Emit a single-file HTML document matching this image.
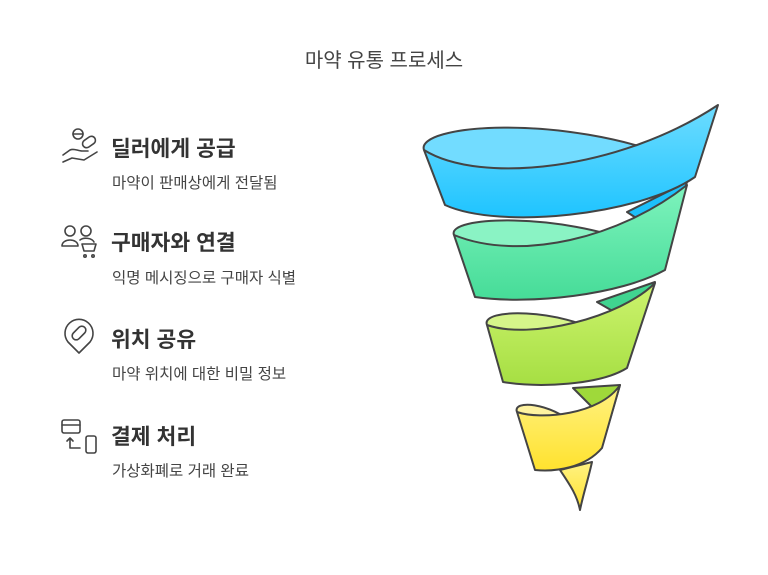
<!DOCTYPE html>
<html><head><meta charset="utf-8"><style>
body{margin:0;width:768px;height:570px;background:#fff;overflow:hidden;font-family:"Liberation Sans","Noto Sans CJK KR",sans-serif;}
</style></head><body>
<svg width="768" height="570" viewBox="0 0 768 570" xmlns="http://www.w3.org/2000/svg">
<defs>
<linearGradient id="gb" x1="0" y1="0" x2="0" y2="1"><stop offset="0" stop-color="#6ddcff"/><stop offset="1" stop-color="#1fc4ff"/></linearGradient>
<linearGradient id="gg" x1="0" y1="0" x2="0" y2="1"><stop offset="0" stop-color="#7ef3bd"/><stop offset="1" stop-color="#46dc98"/></linearGradient>
<linearGradient id="gl" x1="0" y1="0" x2="0" y2="1"><stop offset="0" stop-color="#cdf36e"/><stop offset="1" stop-color="#a6df43"/></linearGradient>
<linearGradient id="gy" x1="0" y1="0" x2="0" y2="1"><stop offset="0" stop-color="#fff283"/><stop offset="1" stop-color="#ffe22e"/></linearGradient>
</defs>
<text x="384" y="67" text-anchor="middle" font-size="20" fill="#444">마약 유통 프로세스</text>

<g stroke="#444" stroke-width="2" stroke-linejoin="round">
<path d="M560,470 C570,485 577,495 580,510 C583,495 588,480 592,462 Z" fill="url(#gy)"/>
<path d="M573,388 L595,410 L604,440 L620,385 Z" fill="#9fd93a"/>
<path d="M597,302 L623,317 L640,320 L655,282 Z" fill="#40d490"/>
<path d="M627,212 L650,227 L675,220 L687,182 Z" fill="#1cc0fb"/>

<path d="M517,412 C512,400 550,402 575,425 C560,440 530,430 517,412 Z" fill="#fff3a0" stroke="none"/>
<path d="M517,412 C512,400 550,402 575,425" fill="none"/>
<path d="M517,412 C540,420 600,415 620,385 L602,448 C585,468 555,472 535,470 Z" fill="url(#gy)"/>

<path d="M487,325 C480,308 560,308 605,335 C560,355 510,345 487,325 Z" fill="#d6f58a" stroke="none"/>
<path d="M487,325 C480,308 560,308 605,335" fill="none"/>
<path d="M487,325 C530,340 620,318 655,283 L627,368 C600,385 540,388 503,382 Z" fill="url(#gl)"/>

<path d="M454,235 C446,216 560,212 640,245 C580,275 500,265 454,235 Z" fill="#8af3c4" stroke="none"/>
<path d="M454,235 C446,216 560,212 640,245" fill="none"/>
<path d="M454,235 C520,262 620,238 687,185 L665,270 C620,295 530,305 475,297 Z" fill="url(#gg)"/>

<path d="M424,150 C415,125 560,112 680,160 C600,200 480,190 424,150 Z" fill="#72dcff" stroke="none"/>
<path d="M424,150 C415,125 560,112 680,160" fill="none"/>
<path d="M424,150 C480,185 620,170 718,105 L695,177 C640,215 500,230 445,205 Z" fill="url(#gb)"/>
</g>

<g fill="none" stroke="#444" stroke-width="1.6" stroke-linecap="round" stroke-linejoin="round">
<circle cx="78" cy="134" r="5"/><line x1="73" y1="134" x2="83" y2="134"/>
<rect x="82" y="138" width="14" height="8" rx="4" transform="rotate(-35 89 142)"/>
<path d="M63,155 L70,150 C74,148 78,151 82,151 L88,151 M63,162 L72,158 L84,160 L97,152"/>
<circle cx="70" cy="231" r="5"/><circle cx="86" cy="231" r="5"/>
<path d="M62,246 C62,238 78,238 78,246 Z"/><path d="M80,240 C84,237 92,238 94,242"/>
<path d="M82,244 L96,244 L94,251 L84,251 Z"/><circle cx="85" cy="256" r="1.2"/><circle cx="93" cy="256" r="1.2"/>
<path d="M79,353 L68,342 A14,14 0 1 1 90,342 Z"/>
<rect x="71" y="329" width="16" height="8" rx="4" transform="rotate(-45 79 333)"/>
<rect x="62" y="420" width="18" height="13" rx="2"/><line x1="62" y1="425" x2="80" y2="425"/>
<rect x="86" y="436" width="10" height="17" rx="2"/>
<path d="M70,448 L70,438 M67,441 L70,438 L73,441 M70,448 L80,448"/>
</g>

<g fill="#333">
<text x="111" y="156" font-size="21.5" font-weight="bold">딜러에게 공급</text>
<text x="112" y="188" font-size="15.5" fill="#444">마약이 판매상에게 전달됨</text>
<text x="111" y="250" font-size="21.5" font-weight="bold">구매자와 연결</text>
<text x="112" y="283" font-size="15.5" fill="#444">익명 메시징으로 구매자 식별</text>
<text x="111" y="347" font-size="21.5" font-weight="bold">위치 공유</text>
<text x="112" y="379" font-size="15.5" fill="#444">마약 위치에 대한 비밀 정보</text>
<text x="111" y="444" font-size="21.5" font-weight="bold">결제 처리</text>
<text x="112" y="476" font-size="15.5" fill="#444">가상화폐로 거래 완료</text>
</g>
</svg>
</body></html>
